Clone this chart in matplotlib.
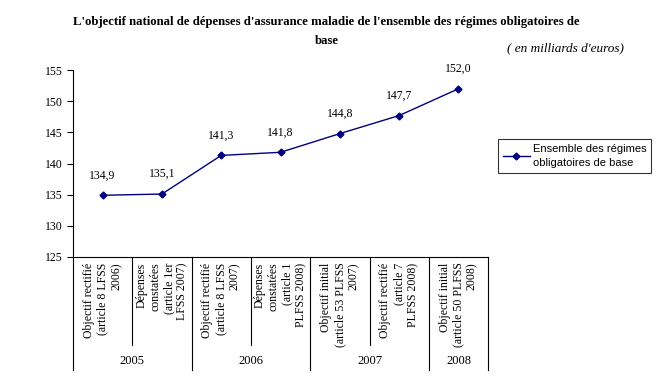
import matplotlib
matplotlib.use("Agg")
import matplotlib.pyplot as plt
import matplotlib.transforms as mtransforms

years = ["2005", "2006", "2007", "2008"]
year_spans = [(0, 1), (2, 3), (4, 5), (6, 6)]
categories = [
    "Objectif rectifié\n(article 8 LFSS\n2006)",
    "Dépenses\nconstatées\n(article 1er\nLFSS 2007)",
    "Objectif rectifié\n(article 8 LFSS\n2007)",
    "Dépenses\nconstatées\n(article 1\nPLFSS 2008)",
    "Objectif initial\n(article 53 PLFSS\n2007)",
    "Objectif rectifié\n(article 7\nPLFSS 2008)",
    "Objectif initial\n(article 50 PLFSS\n2008)",
]
values = [134.9, 135.1, 141.3, 141.8, 144.8, 147.7, 152.0]
value_labels = ["134,9", "135,1", "141,3", "141,8", "144,8", "147,7", "152,0"]
yticks = [125, 130, 135, 140, 145, 150, 155]

serif = "Liberation Serif"
navy = "#000080"

fig = plt.figure(figsize=(6.57, 3.87), dpi=100)
ax = fig.add_axes([0.111, 0.336, 0.632, 0.483])

x = list(range(len(values)))
ax.plot(x, values, color=navy, marker="D", markersize=3.5, linewidth=1,
        label="Ensemble des régimes\nobligatoires de base")
for xi, v, lab in zip(x, values, value_labels):
    ax.annotate(lab, (xi, v), xytext=(0, 10), textcoords="offset points",
                ha="center", va="bottom", fontsize=8.5, family=serif)

ax.set_xlim(-0.5, len(values) - 0.5)
ax.set_ylim(125, 155)
ax.set_yticks(yticks)
ax.set_yticklabels([str(t) for t in yticks], family=serif, fontsize=8.5)
ax.set_xticks([])
ax.tick_params(axis="y", length=4, direction="out", width=0.8)
for s in ["top", "right"]:
    ax.spines[s].set_visible(False)

# two-level category axis drawn below the plot
trans = mtransforms.blended_transform_factory(ax.transData, ax.transAxes)
for xi, cat in enumerate(categories):
    ax.text(xi, -0.03, cat, transform=trans, rotation=90, ha="center", va="top",
            multialignment="right", fontsize=8.5, family=serif, linespacing=1.2)
for (a, b), yr in zip(year_spans, years):
    ax.text((a + b) / 2, -0.555, yr, transform=trans, ha="center", va="center",
            fontsize=9, family=serif)
    ax.plot([a - 0.5, a - 0.5], [0, -0.604], transform=trans, color="black",
            linewidth=0.8, clip_on=False)
    if b > a:
        ax.plot([a + 0.5, a + 0.5], [0, -0.47], transform=trans, color="black",
                linewidth=0.8, clip_on=False)
ax.plot([len(values) - 0.5] * 2, [0, -0.604], transform=trans, color="black",
        linewidth=0.8, clip_on=False)

fig.text(0.497, 0.943, "L'objectif national de dépenses d'assurance maladie de l'ensemble des régimes obligatoires de",
         ha="center", va="center", fontsize=9.2, fontweight="bold", family=serif)
fig.text(0.497, 0.894, "base", ha="center", va="center", fontsize=9.2,
         fontweight="bold", family=serif)
fig.text(0.86, 0.876, "( en milliards d'euros)", ha="center", va="center",
         fontsize=9.5, style="italic", family=serif)

leg = ax.legend(loc="upper left", bbox_to_anchor=(1.01, 0.66), frameon=True,
                fancybox=False, edgecolor="black",
                prop={"family": "Liberation Sans", "size": 8},
                handlelength=2.4, handletextpad=0.3, borderpad=0.45)
leg.get_frame().set_linewidth(0.8)
leg.get_texts()[0].set_linespacing(1.45)

fig.savefig("out.png", dpi=100)
